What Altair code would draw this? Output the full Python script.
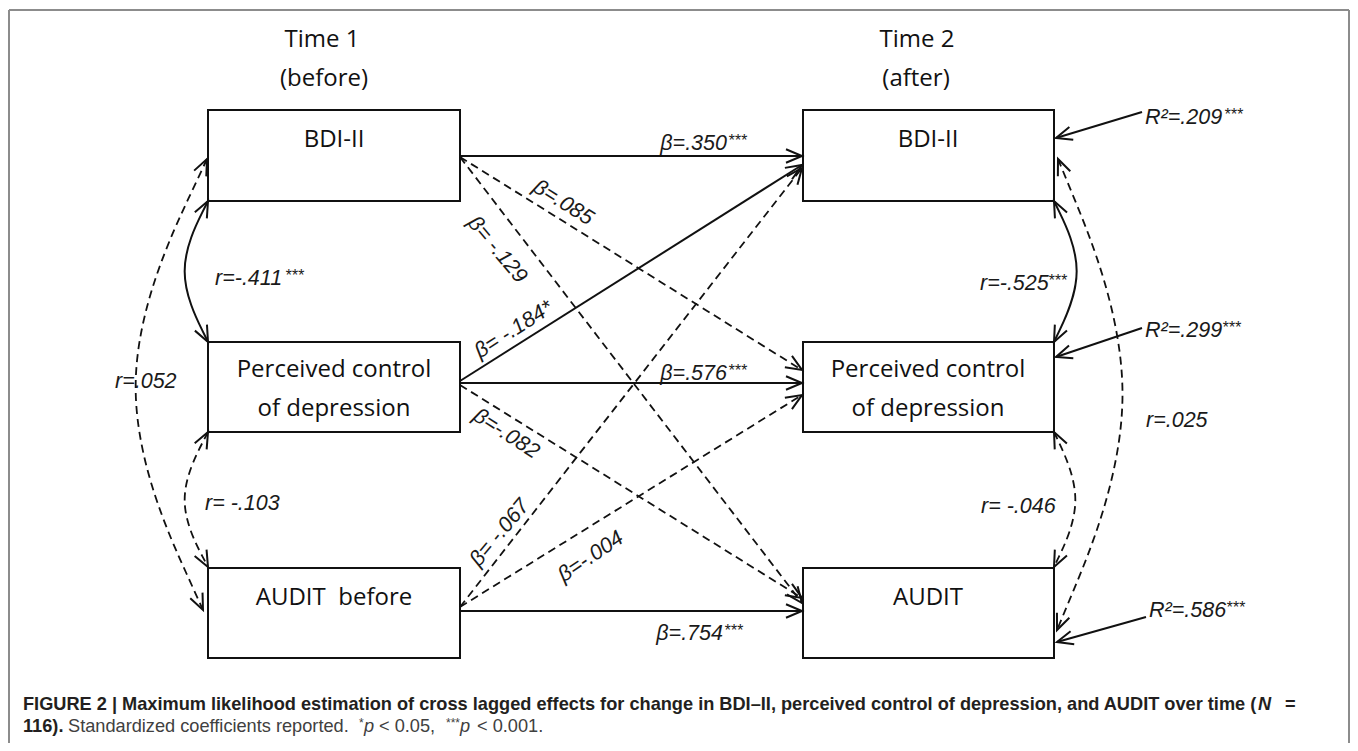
import math
import altair as alt
import pandas as pd

# ---------------- data (reference pixel coordinates) ----------------
box_x0 = [208, 208, 208, 803, 803, 803]
box_x1 = [460, 460, 460, 1054, 1054, 1054]
box_y0 = [110, 342, 568, 110, 342, 568]
box_y1 = [201, 432, 658, 201, 432, 658]

box_label = ["BDI-II", "Perceived control", "of depression", "AUDIT\u00a0\u00a0before",
             "BDI-II", "Perceived control", "of depression", "AUDIT"]
box_label_x = [334, 334, 334, 334, 928, 928, 928, 928]
box_label_y = [147, 377, 416, 605, 147, 377, 416, 605]

time_label = ["Time 1", "(before)", "Time 2", "(after)"]
time_label_x = [322, 324, 917, 916]
time_label_y = [47, 86, 47, 86]

# straight regression paths (start -> end, arrow at end)
path_x0 = [460, 460, 460, 460, 460, 460, 460, 460, 460]
path_y0 = [156, 383, 611, 381, 157, 157, 385, 607, 607]
path_x1 = [802, 802, 802, 802, 802, 802, 802, 802, 802]
path_y1 = [156, 383, 611, 165, 370, 603, 598, 168, 395]
path_dash = ["solid", "solid", "solid", "solid", "dash", "dash", "dash", "dash", "dash"]

# R2 residual arrows
r2_x0 = [1142, 1142, 1146]
r2_y0 = [112, 328, 617]
r2_x1 = [1056, 1056, 1057]
r2_y1 = [138, 357, 642]

# correlation arcs: start, control, end
arc_x0 = [208, 208, 207, 1054, 1054, 1058]
arc_y0 = [201, 432, 159, 201, 432, 159]
arc_cx = [173, 173, 101, 1088, 1086, 1155]
arc_cy = [271, 500, 385, 271, 500, 395]
arc_x1 = [208, 208, 203, 1054, 1054, 1057]
arc_y1 = [342, 567, 610, 342, 567, 630]
arc_dash = ["solid", "dash", "dash", "solid", "dash", "dash"]

# horizontal coefficient labels (main part right-aligned, stars left-aligned)
hlab_text = ["\u03b2=.350", "\u03b2=.576", "\u03b2=.754"]
hlab_x = [727, 727, 723]
hlab_y = [150, 380, 640]
hlab_star = ["***", "***", "***"]

# rotated coefficient labels (centre, angle in degrees clockwise)
rlab_text = ["\u03b2=.085", "\u03b2= -.129", "\u03b2= -.184*", "\u03b2=-.082", "\u03b2= -.067", "\u03b2=-.004"]
rlab_x = [563, 497, 514, 506, 500, 591]
rlab_y = [203, 250, 330, 434, 533, 557]
rlab_angle = [32, 50, 327.5, 33, 310, 326]

# correlation / R2 labels (left-aligned)
clab_text = ["r=-.411", "r= -.103", "r=.052", "r=-.525", "r= -.046", "r=.025",
             "R\u00b2=.209", "R\u00b2=.299", "R\u00b2=.586"]
clab_x = [215, 205, 115, 980, 981, 1146, 1145, 1145, 1149]
clab_y = [285, 510, 388, 290, 513, 427, 124, 337, 617]
cstar_text = ["***", "***", "***", "***", "***"]
cstar_x = [285, 1048, 1224, 1222, 1226]
cstar_y = [281, 286, 120, 333, 613]

# outer frame
frame_x0 = [9, 9, 1349]
frame_y0 = [10, 10, 10]
frame_x1 = [1349, 9, 1349]
frame_y1 = [10, 743, 743]

# caption pieces
cap_bold = ["FIGURE 2 | Maximum likelihood estimation of cross lagged effects for change in BDI\u2013II, perceived control of depression, and AUDIT over time (",
            "=", "116)."]
cap_bold_x = [23, 1285, 23]
cap_bold_y = [710, 710, 732]
cap_bold_it = ["N"]
cap_bold_it_x = [1258]
cap_bold_it_y = [710]
cap_reg = ["Standardized coefficients reported.", "< 0.05,", "< 0.001."]
cap_reg_x = [68, 379, 477]
cap_reg_y = [732, 732, 732]
cap_it = ["p", "p"]
cap_it_x = [364, 460]
cap_it_y = [732, 732]
cap_sup = ["*", "***"]
cap_sup_x = [359, 446]
cap_sup_y = [727, 727]

# ---------------- chart ----------------
XS = alt.Scale(domain=[8, 1350], nice=False, zero=False)
YS = alt.Scale(domain=[8, 743], nice=False, zero=False, reverse=True)
LABEL_FONT = "Liberation Sans"
BOX_FONT = "Open Sans"
CAP_FONT = "Liberation Sans"
INK = "#1a1a1a"
DASH = [8, 5]
ARROW = "M -1 -0.42 L 0 0 L -1 0.42"
LSIZE = 21.5
SSIZE = 16


def xy(xf="x", yf="y"):
    return dict(x=alt.X(f"{xf}:Q", scale=XS, axis=None),
                y=alt.Y(f"{yf}:Q", scale=YS, axis=None))


def tlayer(t, x, y, size, font, style="normal", weight="normal", align="left",
           baseline="alphabetic", color=INK, angle=None):
    df = pd.DataFrame({"t": t, "x": x, "y": y})
    enc = dict(xy(), text=alt.Text("t:N"))
    if angle is not None:
        df["a"] = angle
        enc["angle"] = alt.Angle("a:Q", scale=None)
    return alt.Chart(df).mark_text(font=font, fontSize=size, fontStyle=style,
                                   fontWeight=weight, align=align, baseline=baseline,
                                   color=color).encode(**enc)


def ang(dx, dy):
    return math.degrees(math.atan2(dy, dx)) % 360


layers = []

# frame
frame_df = pd.DataFrame({"x": frame_x0, "y": frame_y0, "x2": frame_x1, "y2": frame_y1})
layers.append(alt.Chart(frame_df).mark_rule(color="#8c8c8c", strokeWidth=2).encode(
    **xy(), x2="x2:Q", y2="y2:Q"))

# boxes
box_df = pd.DataFrame({"x": box_x0, "x2": box_x1, "y": box_y0, "y2": box_y1})
layers.append(alt.Chart(box_df).mark_rect(fill="white", stroke="#111", strokeWidth=2).encode(
    **xy(), x2="x2:Q", y2="y2:Q"))

# straight paths
sp = pd.DataFrame({"x": path_x0 + r2_x0, "y": path_y0 + r2_y0,
                   "x2": path_x1 + r2_x1, "y2": path_y1 + r2_y1,
                   "d": path_dash + ["solid"] * len(r2_x0)})
layers.append(alt.Chart(sp[sp.d == "solid"]).mark_rule(color="#111", strokeWidth=2).encode(
    **xy(), x2="x2:Q", y2="y2:Q"))
layers.append(alt.Chart(sp[sp.d == "dash"]).mark_rule(color="#111", strokeWidth=1.8, strokeDash=DASH).encode(
    **xy(), x2="x2:Q", y2="y2:Q"))

# arcs
arc_rows = []
for i in range(len(arc_x0)):
    for s, (px, py) in enumerate([(arc_x0[i], arc_y0[i]), (arc_cx[i], arc_cy[i]), (arc_x1[i], arc_y1[i])]):
        arc_rows.append({"id": i, "s": s, "x": px, "y": py, "d": arc_dash[i]})
arc_df = pd.DataFrame(arc_rows)
layers.append(alt.Chart(arc_df[arc_df.d == "solid"]).mark_line(
    interpolate="basis", color="#111", strokeWidth=2).encode(
    **xy(), detail="id:N", order="s:Q"))
layers.append(alt.Chart(arc_df[arc_df.d == "dash"]).mark_line(
    interpolate="basis", color="#111", strokeWidth=1.8, strokeDash=DASH).encode(
    **xy(), detail="id:N", order="s:Q"))

# arrowheads
heads = []
for i in range(len(sp)):
    r = sp.iloc[i]
    heads.append({"x": r.x2, "y": r.y2, "a": ang(r.x2 - r.x, r.y2 - r.y)})
for i in range(len(arc_x0)):
    heads.append({"x": arc_x0[i], "y": arc_y0[i], "a": ang(arc_x0[i] - arc_cx[i], arc_y0[i] - arc_cy[i])})
    heads.append({"x": arc_x1[i], "y": arc_y1[i], "a": ang(arc_x1[i] - arc_cx[i], arc_y1[i] - arc_cy[i])})
head_df = pd.DataFrame(heads)
layers.append(alt.Chart(head_df).mark_point(shape=ARROW, filled=False, size=1024, strokeWidth=2,
                                            color="#111", opacity=1).encode(
    **xy(), angle=alt.Angle("a:Q", scale=None)))

# texts
layers.append(tlayer(box_label, box_label_x, box_label_y, 24, BOX_FONT, align="center", color="#111"))
layers.append(tlayer(time_label, time_label_x, time_label_y, 24, BOX_FONT, align="center", color="#111"))

layers.append(tlayer(hlab_text, hlab_x, hlab_y, LSIZE, LABEL_FONT, style="italic", align="right"))
layers.append(tlayer(hlab_star, [v + 1 for v in hlab_x], [v - 4 for v in hlab_y], SSIZE, LABEL_FONT,
                     style="italic"))
layers.append(tlayer(rlab_text, rlab_x, rlab_y, LSIZE, LABEL_FONT, style="italic", align="center",
                     baseline="middle", angle=rlab_angle))
layers.append(tlayer(clab_text, clab_x, clab_y, LSIZE, LABEL_FONT, style="italic"))
layers.append(tlayer(cstar_text, cstar_x, cstar_y, SSIZE, LABEL_FONT, style="italic"))

layers.append(tlayer(cap_bold, cap_bold_x, cap_bold_y, 18.2, CAP_FONT, weight="bold", color="#231f20"))
layers.append(tlayer(cap_bold_it, cap_bold_it_x, cap_bold_it_y, 18.2, CAP_FONT, weight="bold",
                     style="italic", color="#231f20"))
layers.append(tlayer(cap_reg, cap_reg_x, cap_reg_y, 18.2, CAP_FONT, color="#404040"))
layers.append(tlayer(cap_it, cap_it_x, cap_it_y, 18.2, CAP_FONT, style="italic", color="#404040"))
layers.append(tlayer(cap_sup, cap_sup_x, cap_sup_y, 12, CAP_FONT, color="#404040"))

chart = alt.layer(*layers).properties(
    width=1342, height=735, padding=0, autosize=alt.AutoSizeParams(type="none")
).configure_view(stroke=None)

chart.save("out.html", embed_options={"renderer": "svg", "actions": False})
